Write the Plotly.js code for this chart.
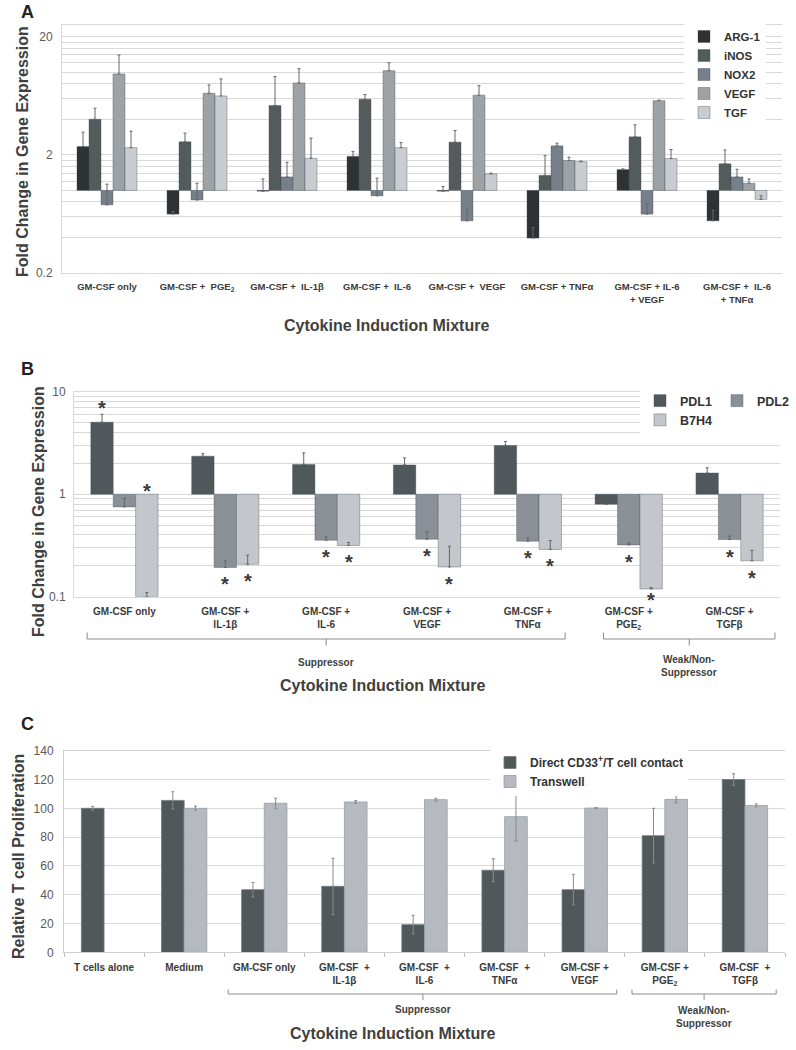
<!DOCTYPE html>
<html>
<head>
<meta charset="utf-8">
<script src="https://cdn.plot.ly/plotly-3.0.1.min.js"></script>
<style>
  body { margin: 0; background: #fff; }
  #chart { width: 796px; height: 1050px; }
</style>
</head>
<body>
<div id="chart"></div>
<script>
// ---- Panel A: fold change (log scale, bars grow from 1) ----
var catsA = ['GM-CSF only', 'GM-CSF +  PGE<sub>2</sub>', 'GM-CSF +  IL-1β', 'GM-CSF +  IL-6',
             'GM-CSF +  VEGF', 'GM-CSF + TNFα', 'GM-CSF + IL-6<br>+ VEGF', 'GM-CSF +  IL-6<br>+ TNFα'];
var namesA = ['ARG-1', 'iNOS', 'NOX2', 'VEGF', 'TGF'];
var arg1  = [2.35, 0.63, 0.985, 1.94, 0.985, 0.395, 1.50, 0.553];
var arg1E = [0.76, 0.03, 0.265, 0.19, 0.095, 0.09, 0.02, 0.124];
var inos  = [4.0, 2.58, 5.22, 5.91, 2.56, 1.34, 2.84, 1.68];
var inosE = [0.96, 0.47, 3.96, 0.56, 0.65, 0.63, 0.75, 0.52];
var nox2  = [0.755, 0.83, 1.30, 0.90, 0.553, 2.38, 0.63, 1.30];
var nox2E = [0.375, 0.32, 0.43, 0.37, 0.133, 0.13, 0.14, 0.21];
var vegf  = [9.68, 6.64, 8.12, 10.3, 6.39, 1.79, 5.75, 1.15];
var vegfE = [4.3, 1.17, 2.6, 1.75, 1.3, 0.12, 0.05, 0.10];
var tgf   = [2.3, 6.3, 1.87, 2.3, 1.38, 1.75, 1.86, 0.84];
var tgfE  = [0.87, 2.47, 0.9, 0.24, 0.02, 0.02, 0.36, 0.06];
var colorsA = ['#2e3234', '#545b5d', '#75808a', '#9da2a7', '#c9cdd2'];

// ---- Panel B: checkpoint ligands ----
var catsB = ['GM-CSF only', 'GM-CSF +<br>IL-1β', 'GM-CSF +<br>IL-6', 'GM-CSF +<br>VEGF',
             'GM-CSF +<br>TNFα', 'GM-CSF +<br>PGE<sub>2</sub>', 'GM-CSF +<br>TGFβ'];
var namesB = ['PDL1', 'PDL2', 'B7H4'];
var pdl1  = [5.04, 2.35, 1.95, 1.93, 2.99, 0.80, 1.61];
var pdl1E = [0.99, 0.15, 0.58, 0.33, 0.28, 0, 0.20];
var pdl2  = [0.752, 0.193, 0.356, 0.364, 0.348, 0.32, 0.361];
var pdl2E = [0.156, 0.031, 0.027, 0.066, 0.027, 0.015, 0.029];
var b7h4  = [0.1, 0.207, 0.316, 0.195, 0.289, 0.119, 0.224];
var b7h4E = [0.01, 0.047, 0.022, 0.116, 0.064, 0.004, 0.06];
var starsPdl1 = [1, 0, 0, 0, 0, 0, 0];
var starsPdl2 = [0, 1, 1, 1, 1, 1, 1];
var starsB7h4 = [1, 1, 1, 1, 1, 1, 1];
var colorsB = ['#50585b', '#8a9096', '#c3c7cc'];

// ---- Panel C: T cell proliferation ----
var catsC = ['T cells alone', 'Medium', 'GM-CSF only', 'GM-CSF  +<br>IL-1β', 'GM-CSF  +<br>IL-6',
             'GM-CSF  +<br>TNFα', 'GM-CSF +<br>VEGF', 'GM-CSF +<br>PGE<sub>2</sub>', 'GM-CSF  +<br>TGFβ'];
var namesC = ['Direct CD33<sup>+</sup>/T cell contact', 'Transwell'];
var direct  = [100, 105.5, 43.5, 45.8, 19.2, 57, 43.5, 81, 120];
var directE = [1.3, 6, 5, 19.5, 6.5, 8, 10.6, 19, 4];
var transw  = [null, 100, 103.5, 104.4, 106, 94.2, 100.2, 106.2, 102];
var transwE = [0, 1.5, 3.5, 1, 1, 17, 0.3, 2.5, 1];
var colorsC = ['#50585a', '#b6babf'];

var W = 796, H = 1050;
function px(x) { return x / W; }
function py(y) { return 1 - y / H; }

var FONT = 'Liberation Sans, Arial, sans-serif';
var GRID = '#d9d9d9';

// bars on a log axis starting at 1: length = value - 1
function logBar(name, cats, vals, errs, color, xa, ya, leg, group) {
  return {
    type: 'bar', name: name, x: cats,
    y: vals.map(function (v) { return v - 1; }),
    base: 1,
    xaxis: xa, yaxis: ya, legend: leg, legendgroup: group,
    marker: { color: color, line: { color: 'rgba(60,70,80,0.45)', width: 0.8 } },
    error_y: { type: 'data', symmetric: false, array: errs,
               arrayminus: errs.map(function () { return 0; }),
               color: '#666', thickness: 1, width: 1.5 }
  };
}

var data = [];
var valsA = [arg1, inos, nox2, vegf, tgf];
var errsA = [arg1E, inosE, nox2E, vegfE, tgfE];
namesA.forEach(function (n, i) {
  data.push(logBar(n, catsA, valsA[i], errsA[i], colorsA[i], 'x', 'y', 'legend'));
});

var valsB = [pdl1, pdl2, b7h4];
var errsB = [pdl1E, pdl2E, b7h4E];
var starsB = [starsPdl1, starsPdl2, starsB7h4];
var groupsB = ['g1', 'g2', 'g1'];
namesB.forEach(function (n, i) {
  data.push(logBar(n, catsB, valsB[i], errsB[i], colorsB[i], 'x2', 'y2', 'legend2', groupsB[i]));
});

var barWC = 0.283;
data.push({
  type: 'bar', name: namesC[0], x: catsC, y: direct, xaxis: 'x3', yaxis: 'y3', legend: 'legend3',
  width: barWC, offset: -barWC,
  marker: { color: colorsC[0], line: { color: '#6f7a80', width: 0.8 } },
  error_y: { type: 'data', array: directE, color: '#8a8a8a', thickness: 1, width: 1.5 }
});
data.push({
  type: 'bar', name: namesC[1], x: catsC, y: transw, xaxis: 'x3', yaxis: 'y3', legend: 'legend3',
  width: barWC, offset: 0,
  marker: { color: colorsC[1], line: { color: '#8fa0ad', width: 0.8 } },
  error_y: { type: 'data', array: transwE, color: '#8a8a8a', thickness: 1, width: 1.5 }
});

var tickFontY = { family: FONT, size: 12, color: '#5a5a5a' };
var titleFont = { family: FONT, size: 16, color: '#404040', weight: 'bold' };
var smallBold = { family: FONT, size: 10, color: '#404040', weight: 'bold' };

var annotations = [];
function note(text, x, y, font, extra) {
  var a = { xref: 'paper', yref: 'paper', x: px(x), y: py(y), text: text, showarrow: false,
            font: font, xanchor: 'center', yanchor: 'middle' };
  for (var k in extra) a[k] = extra[k];
  annotations.push(a);
}
// panel letters
var letterFont = { family: FONT, size: 18, color: '#222', weight: 'bold' };
note('A', 27, 0, letterFont, { yanchor: 'top' });
note('B', 27, 357, letterFont, { yanchor: 'top' });
note('C', 27, 712, letterFont, { yanchor: 'top' });
// axis titles
note('Fold Change in Gene Expression', 22, 152, titleFont, { textangle: -90 });
note('Fold Change in Gene Expression', 38, 512, titleFont, { textangle: -90 });
note('Relative T cell Proliferation', 18, 857, titleFont, { textangle: -90 });
note('Cytokine Induction Mixture', 386, 325, titleFont);
note('Cytokine Induction Mixture', 382, 685, titleFont);
note('Cytokine Induction Mixture', 392, 1033, titleFont);

// bracket labels
function bracketLabel(text, xa, xc, y) {
  annotations.push({ xref: xa, yref: 'paper', x: xc, y: py(y), text: text, showarrow: false,
                     font: smallBold, xanchor: 'center', yanchor: 'middle' });
}
bracketLabel('Suppressor', 'x2', 2.0, 662);
bracketLabel('Weak/Non-<br>Suppressor', 'x2', 5.6, 666);
bracketLabel('Suppressor', 'x3', 3.98, 1009.5);
bracketLabel('Weak/Non-<br>Suppressor', 'x3', 7.49, 1017);

// significance stars in panel B
var slotB = (1 - 1 / 3) / 3;
starsB.forEach(function (flags, si) {
  flags.forEach(function (f, ci) {
    if (!f) return;
    var v = valsB[si][ci], e = errsB[si][ci];
    var yv, shift;
    if (v >= 1) { yv = v + e; shift = 6; }
    else if (v <= 0.1001) { yv = 1; shift = 3; }
    else if (v < 0.13) { yv = v; shift = -11; }
    else { yv = v; shift = -17; }
    annotations.push({ xref: 'x2', yref: 'y2', x: ci + (si - 1) * slotB, y: Math.log10(yv),
                       text: '*', showarrow: false, yshift: shift, yanchor: 'middle',
                       font: { family: FONT, size: 20, color: '#3a3a3a', weight: 'bold' } });
  });
});

// brackets under category groups
function bracket(xa, x0, x1, xc, yTop, yLine, yDown) {
  return { type: 'path', xref: xa, yref: 'paper', layer: 'above',
           path: 'M' + x0 + ',' + py(yTop) + ' L' + x0 + ',' + py(yLine) + ' L' + x1 + ',' + py(yLine) +
                 ' L' + x1 + ',' + py(yTop) + ' M' + xc + ',' + py(yLine) + ' L' + xc + ',' + py(yDown),
           line: { color: '#8c8c8c', width: 1 } };
}
var shapes = [
  bracket('x2', -0.37, 4.37, 2.0, 632.5, 639, 645.5),
  bracket('x2', 4.75, 6.45, 5.6, 632.5, 639, 645.5),
  bracket('x3', 1.55, 6.40, 3.98, 989.5, 994, 1000),
  bracket('x3', 6.59, 8.39, 7.49, 989.5, 994, 1000)
];

var layout = {
  width: W, height: H,
  margin: { l: 0, r: 0, t: 0, b: 0 },
  paper_bgcolor: '#fff', plot_bgcolor: '#fff',
  font: { family: FONT, color: '#404040' },
  barmode: 'group', bargap: 1 / 3, bargroupgap: 0,
  showlegend: true,
  annotations: annotations,
  shapes: shapes,

  xaxis: { domain: [px(62), px(782)], anchor: 'y', type: 'category',
           tickfont: { family: FONT, size: 9.5, color: '#3a3a3a', weight: 'bold' },
           ticks: '', ticklabelstandoff: 5, showgrid: false,
           showline: true, mirror: true, linecolor: GRID, zeroline: false },
  yaxis: { domain: [py(273), py(25)], anchor: 'x', type: 'log',
           range: [Math.log10(0.2), Math.log10(25.1)],
           tickvals: [0.2, 2, 20], ticktext: ['0.2', '2', '20'],
           tickfont: tickFontY, ticklabelstandoff: 6,
           showgrid: true, gridcolor: GRID, gridwidth: 1,
           minor: { tickvals: [0.4, 0.6, 0.8, 1, 1.2, 1.4, 1.6, 1.8, 4, 6, 8, 10, 12, 14, 16, 18],
                    showgrid: true, gridcolor: GRID, gridwidth: 1, ticks: '' },
           showline: true, linecolor: GRID, zeroline: false },

  xaxis2: { domain: [px(74), px(780)], anchor: 'y2', type: 'category',
            tickfont: { family: FONT, size: 10, color: '#3a3a3a', weight: 'bold' },
            ticks: '', ticklabelstandoff: 5, showgrid: false,
            showline: true, mirror: true, linecolor: GRID, zeroline: false },
  yaxis2: { domain: [py(596.7), py(391.7)], anchor: 'x2', type: 'log',
            range: [-1, 1],
            tickvals: [0.1, 1, 10], ticktext: ['0.1', '1', '10'],
            tickfont: tickFontY, ticklabelstandoff: 5,
            showgrid: true, gridcolor: GRID, gridwidth: 1,
            minor: { tickvals: [0.2, 0.3, 0.4, 0.5, 0.6, 0.7, 0.8, 0.9, 2, 3, 4, 5, 6, 7, 8, 9],
                     showgrid: true, gridcolor: GRID, gridwidth: 1, ticks: '' },
            showline: true, linecolor: GRID, zeroline: false },

  xaxis3: { domain: [px(64), px(785)], anchor: 'y3', type: 'category',
            tickfont: { family: FONT, size: 10, color: '#3a3a3a', weight: 'bold' },
            ticks: 'outside', tickson: 'boundaries', ticklen: 4, tickcolor: '#bfbfbf',
            ticklabelstandoff: 6, showgrid: false,
            showline: true, mirror: true, linecolor: '#cfcfcf', zeroline: false },
  yaxis3: { domain: [py(952.3), py(750.7)], anchor: 'x3', range: [0, 140], dtick: 20,
            tickfont: tickFontY, ticklabelstandoff: 7,
            showgrid: true, gridcolor: GRID, gridwidth: 1,
            showline: true, linecolor: '#cfcfcf', zeroline: false },

  legend: { x: px(684), y: py(22), xanchor: 'left', yanchor: 'top', bgcolor: '#fff',
            itemwidth: 30, tracegroupgap: 0,
            font: { family: FONT, size: 11.5, color: '#333', weight: 'bold' } },
  legend2: { x: px(640), y: py(386), xanchor: 'left', yanchor: 'top', bgcolor: '#fff',
             orientation: 'h', itemwidth: 30,
             font: { family: FONT, size: 12.5, color: '#333', weight: 'bold' } },
  legend3: { x: px(490), y: py(748), xanchor: 'left', yanchor: 'top', bgcolor: '#fff',
             itemwidth: 30,
             font: { family: FONT, size: 12, color: '#333', weight: 'bold' } }
};

Plotly.newPlot('chart', data, layout, { displayModeBar: false, staticPlot: true });
</script>
</body>
</html>
